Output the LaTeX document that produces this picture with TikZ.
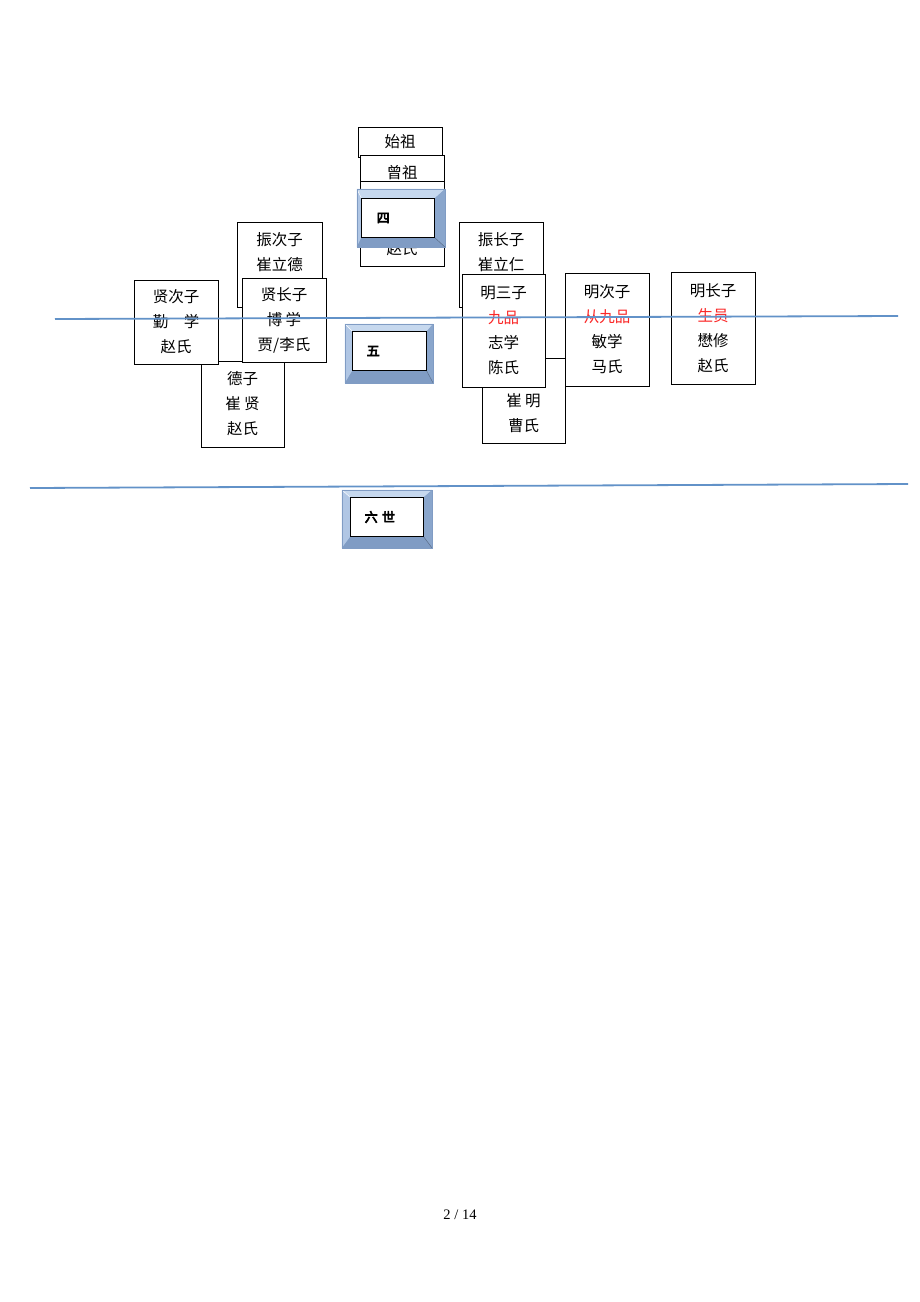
\documentclass[tikz,border=0pt]{standalone}
\usepackage{fontspec}
\usepackage{tikz}
\setmainfont{Liberation Serif}
\newfontfamily\cjk{Noto Sans CJK SC}
\newfontfamily\cjkbold[AutoFakeBold=4.5]{Noto Sans CJK SC}

\definecolor{gline}{RGB}{98,146,200}
\definecolor{bevmid}{RGB}{150,178,214}
\definecolor{bevtop}{RGB}{198,216,238}
\definecolor{bevleft}{RGB}{176,198,228}
\definecolor{bevbot}{RGB}{128,156,196}
\definecolor{bevright}{RGB}{138,166,204}
\definecolor{jred}{RGB}{250,40,40}

\begin{document}
\begin{tikzpicture}[x=1pt,y=-1pt,
    person/.style={draw=black,line width=.8pt,fill=white,inner sep=0pt,
      align=center,font=\cjk\fontsize{15.5}{25}\selectfont},
    outer/.style={fill=bevmid,inner sep=0pt,minimum width=#1},
    inner/.style={draw=black,line width=1pt,fill=white,inner sep=0pt,minimum width=#1,minimum height=38},
    gentxt/.style={anchor=west,inner sep=0pt,font=\cjkbold\bfseries\fontsize{13}{13}\selectfont},
    genline/.style={draw=gline,line width=1.8pt}]
        \useasboundingbox (0,0) rectangle (920,1302);
        % 始祖 -- 四世
        \node[person,minimum width=84,minimum height=30] (shizu) at (400,142) {始祖};
        \node[person,minimum width=84,minimum height=35] (zengzu) at (402,173) {曾祖};
        \node[person,minimum width=84,minimum height=85] (zushi) at (402,223.5) {\phantom{赵氏}\\\phantom{赵氏}\\赵氏};
        \node[outer=88,minimum height=58] (sio) at (401,218) {};
        \node[inner=72] (sii) at (398,218) {};
        % 五世
        \node[person,minimum width=85,minimum height=85] (zhenci) at (279.5,264.5) {振次子\\崔立德\\\phantom{崔}};
        \node[person,minimum width=83,minimum height=86] (dezi) at (242.5,404) {德子\\崔 贤\\赵氏};
        \node[person,minimum width=84,minimum height=84] (xianci) at (176,322) {贤次子\\勤\quad 学\\赵氏};
        \node[person,minimum width=84,minimum height=84] (xianchang) at (284,320) {贤长子\\博 学\\贾/李氏};
        \node[outer=88,minimum height=59] (wuo) at (389,353.5) {};
        \node[inner=73] (wui) at (389.5,351) {};
        \node[person,minimum width=84,minimum height=85] (zhenchang) at (501,264.5) {振长子\\崔立仁\\\phantom{崔}};
        \node[person,minimum width=83,minimum height=85] (cuiming) at (523.5,400.5) {\phantom{崔}\\崔 明\\曹氏};
        \node[person,minimum width=83,minimum height=113] (mingsan) at (503.5,330.5)
          {明三子\\\textcolor{jred}{九品}\\志学\\陈氏};
        \node[person,minimum width=84,minimum height=113] (mingci) at (607,329.5)
          {明次子\\\textcolor{jred}{从九品}\\敏学\\马氏};
        \node[person,minimum width=84,minimum height=112] (mingchang) at (713,328)
          {明长子\\\textcolor{jred}{生员}\\懋修\\赵氏};
        % 六世
        \node[outer=90,minimum height=58] (liuo) at (387,519) {};
        \node[inner=72] (liui) at (387,517) {};
        % bevels
        \foreach \g in {si,wu,liu}{
          \fill[bevtop] (\g o.north west) -- (\g o.north east) -- (\g i.north east) -- (\g i.north west) -- cycle;
          \fill[bevleft] (\g o.north west) -- (\g i.north west) -- (\g i.south west) -- (\g o.south west) -- cycle;
          \fill[bevbot] (\g o.south west) -- (\g i.south west) -- (\g i.south east) -- (\g o.south east) -- cycle;
          \fill[bevright] (\g o.north east) -- (\g o.south east) -- (\g i.south east) -- (\g i.north east) -- cycle;
          \draw[white,line width=.5pt] (\g o.north west) -- (\g i.north west);
          \draw[bevbot!70!black,line width=.5pt] (\g o.south east) -- (\g i.south east);
          \draw[bevbot,line width=.6pt] (\g o.north west) rectangle (\g o.south east);
          \draw[black,line width=1pt,fill=white] (\g i.north west) rectangle (\g i.south east);
        };
        \node[gentxt] (sitxt) at ([xshift=15pt]sii.west) {四};
        \node[gentxt] (wutxt) at ([xshift=14pt]wui.west) {五};
        \node[gentxt] (liutxt) at ([xshift=14pt]liui.west) {六\,\,世};
        % generation lines
        \coordinate (la) at (55,319);
        \coordinate (lb) at (898,316);
        \coordinate (lc) at (30,488);
        \coordinate (ld) at (908,484);
        \draw[genline] (la) -- (lb);
        \draw[genline] (lc) -- (ld);
        \node[font=\fontsize{14.5}{14.5}\selectfont] (page) at (460,1215) {2 / 14};
      \end{tikzpicture}
\end{document}
